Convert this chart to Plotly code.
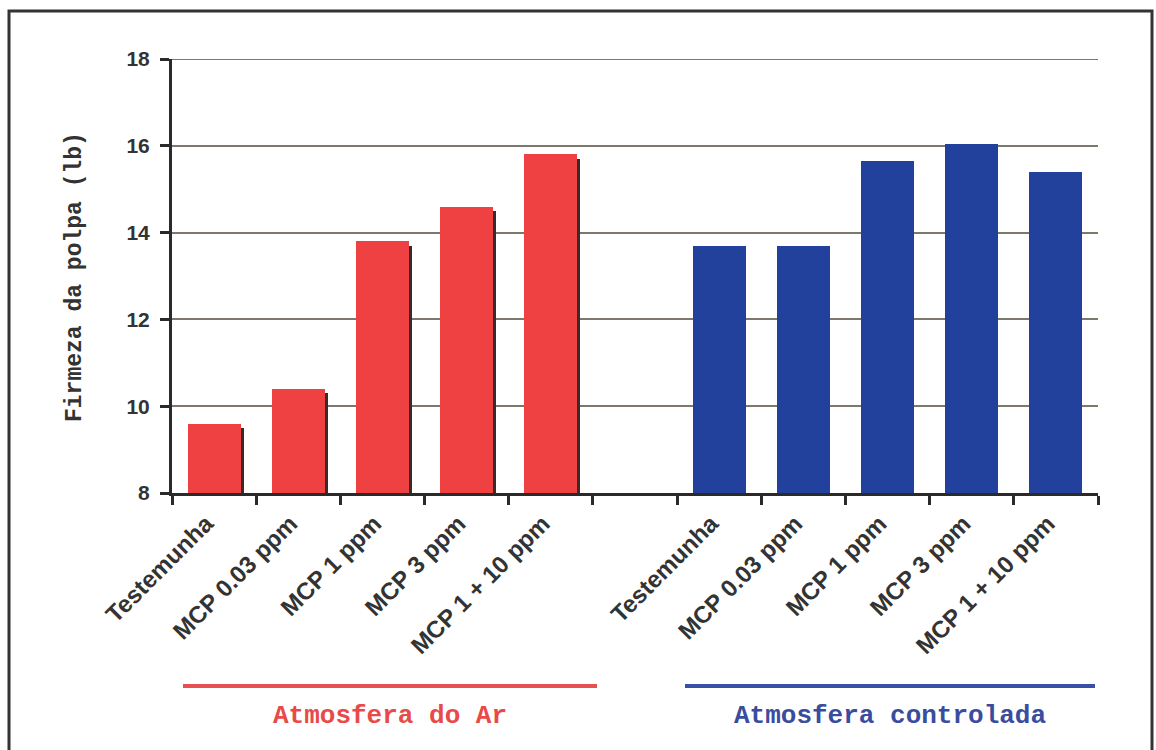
import plotly.graph_objects as go

# Firmeza da polpa (lb) por tratamento, em duas atmosferas de armazenamento
tratamentos = ["Testemunha", "MCP 0.03 ppm", "MCP 1 ppm", "MCP 3 ppm", "MCP 1 + 10 ppm"]
firmeza_ar = [9.6, 10.4, 13.8, 14.6, 15.8]
firmeza_ac = [13.7, 13.7, 15.65, 16.05, 15.4]
grupos = ["Atmosfera do Ar", "Atmosfera controlada"]
y_ticks = [8, 10, 12, 14, 16, 18]

RED = "#EF4141"
BLUE = "#22419C"
AXIS = "#2A2A2A"
GRID = "#7E786C"

# slots on a numeric axis: 5 bars, one empty slot, 5 bars
x_ar = [i + 0.5 for i in range(len(tratamentos))]
x_ac = [i + 6.5 for i in range(len(tratamentos))]
bar_w = 0.63

# figure geometry (pixels) for the plot area
W, H = 1156, 750
L, R, T, B = 172, 58, 59, 257
pw, ph = W - L - R, H - T - B


def px_x(p):
    return (p - L) / pw


def px_y(p):
    return (H - B - p) / ph


fig = go.Figure()

# dark drop shadow on the right side of the red bars
fig.add_trace(go.Bar(
    x=x_ar, y=[v - 0.1 for v in firmeza_ar], width=bar_w, offset=-bar_w / 2 + 0.035,
    marker=dict(color="#3A2A2A", line=dict(width=0)), hoverinfo="skip", showlegend=False,
))
fig.add_trace(go.Bar(
    x=x_ar, y=firmeza_ar, width=bar_w, offset=-bar_w / 2,
    marker=dict(color=RED, line=dict(width=0)), name=grupos[0], showlegend=False,
))
fig.add_trace(go.Bar(
    x=x_ac, y=firmeza_ac, width=bar_w, offset=-bar_w / 2,
    marker=dict(color=BLUE, line=dict(width=0)), name=grupos[1], showlegend=False,
))

tick_font = dict(family="Liberation Sans, Arial, sans-serif", size=24, color="#333333", weight="bold")

fig.update_layout(
    width=W, height=H,
    margin=dict(l=L, r=R, t=T, b=B),
    paper_bgcolor="white", plot_bgcolor="white",
    barmode="overlay", bargap=0,
    xaxis=dict(
        range=[0, 11], showgrid=False, zeroline=False,
        showline=True, linecolor=AXIS, linewidth=3,
        tickmode="array", tickvals=x_ar + x_ac, ticktext=tratamentos + tratamentos,
        tickangle=-45, ticks="", tickfont=tick_font, ticklabelstandoff=4,
        ticklabelshift=-8,
        minor=dict(tickmode="array", tickvals=list(range(12)), ticks="outside",
                   ticklen=9, tickwidth=3, tickcolor=AXIS, showgrid=False),
    ),
    yaxis=dict(
        range=[8, 18], tickmode="array", tickvals=y_ticks,
        showgrid=True, gridcolor=GRID, gridwidth=2, zeroline=False,
        showline=True, linecolor=AXIS, linewidth=3,
        ticks="outside", ticklen=9, tickwidth=3, tickcolor=AXIS,
        tickfont=dict(family="Liberation Sans, Arial, sans-serif", size=21, color="#333333", weight="bold"),
        ticklabelstandoff=6,
    ),
)

# top gridline sits on the plot edge, so draw it explicitly
fig.add_shape(
    type="line", xref="x", yref="y", x0=0, x1=11, y0=y_ticks[-1], y1=y_ticks[-1],
    line=dict(color=GRID, width=2), layer="below",
)

mono = "Liberation Mono, Courier New, monospace"

# y axis title
fig.add_annotation(
    text="Firmeza da polpa (lb)", xref="paper", yref="paper",
    x=px_x(75), y=px_y(277), textangle=-90, showarrow=False,
    font=dict(family=mono, size=23, color="#333333", weight="bold"),
    xanchor="center", yanchor="middle",
)

# group underlines and group names
for (x0, x1), name, line_c, text_c in [
    ((183, 597), grupos[0], "#E85050", "#E84A48"),
    ((685, 1095), grupos[1], "#3A4FA6", "#3A4C9E"),
]:
    fig.add_shape(
        type="line", xref="paper", yref="paper",
        x0=px_x(x0), x1=px_x(x1), y0=px_y(686), y1=px_y(686),
        line=dict(color=line_c, width=4),
    )
    fig.add_annotation(
        text=name, xref="paper", yref="paper",
        x=px_x((x0 + x1) / 2), y=px_y(716), showarrow=False,
        font=dict(family=mono, size=26, color=text_c, weight="bold"),
        xanchor="center", yanchor="middle",
    )

# outer frame
fig.add_shape(
    type="rect", xref="paper", yref="paper",
    x0=px_x(9), x1=px_x(1152), y0=px_y(11), y1=px_y(770),
    line=dict(color="#333333", width=3), fillcolor="rgba(0,0,0,0)",
)

fig.write_html("out.html")
